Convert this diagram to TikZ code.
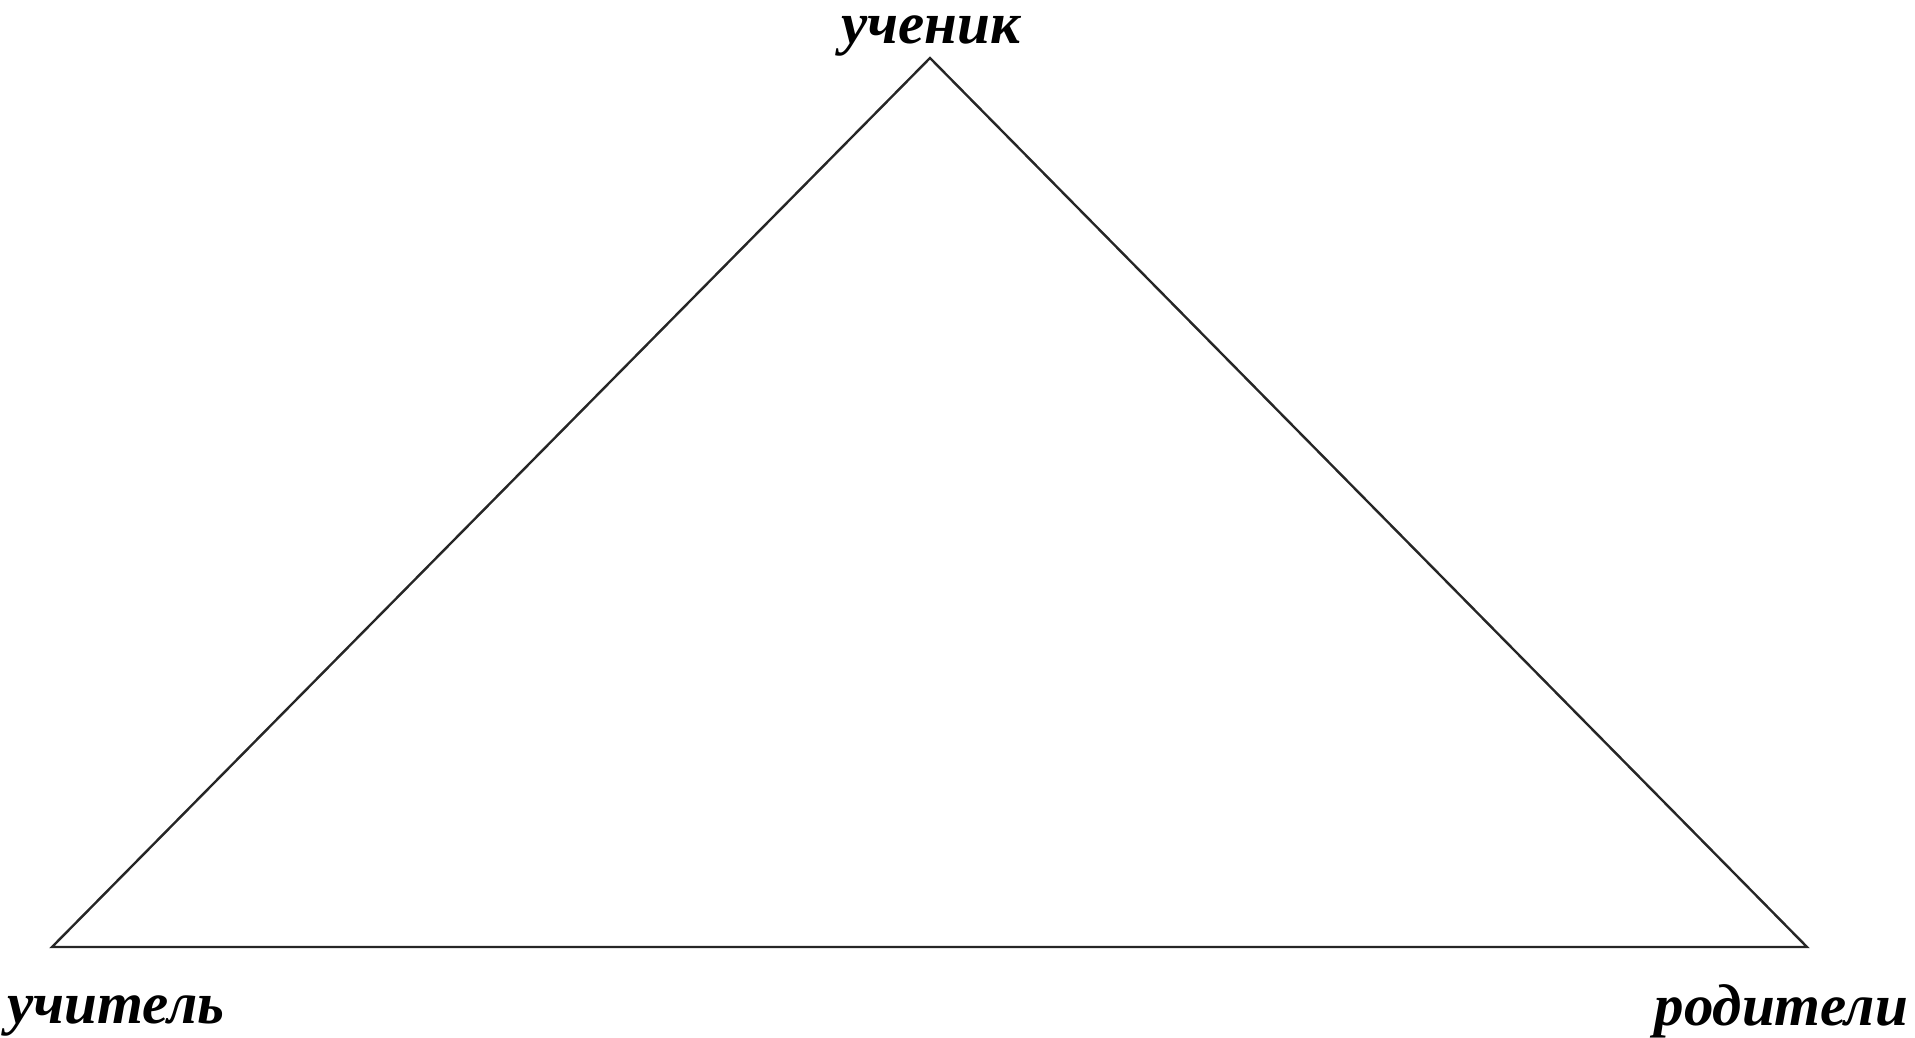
\documentclass[tikz,border=0pt]{standalone}
\usepackage{fontspec}
\setmainfont{Liberation Serif}
\begin{document}
\begin{tikzpicture}[x=1pt,y=-1pt,
  lbl/.style={font=\fontsize{59}{66}\selectfont\bfseries\itshape, inner sep=0pt, text=black},
  edge/.style={draw=black!85, line width=2.4pt, line join=miter}]
\useasboundingbox (0,0) rectangle (1915,1037);
\coordinate (t) at (930,58);
\coordinate (bl) at (52,947);
\coordinate (br) at (1807,947);
\draw[edge] (t) -- (bl) -- (br) -- cycle;
\node[lbl, anchor=base] (uchenik) at (931,43) {ученик};
\node[lbl, anchor=base west] (uchitel) at (7,1023) {учитель};
\node[lbl, anchor=base east] (roditeli) at (1908,1025) {родители};
\end{tikzpicture}
\end{document}
